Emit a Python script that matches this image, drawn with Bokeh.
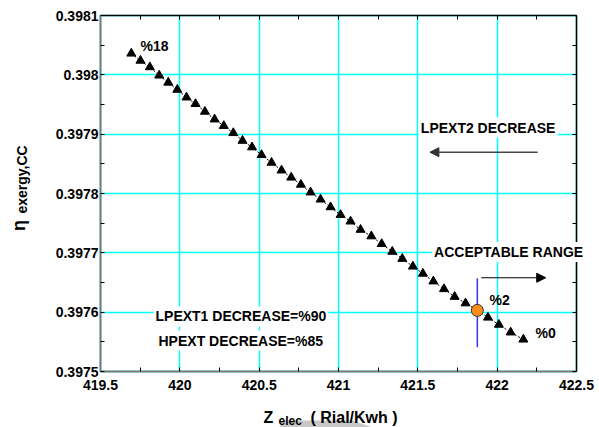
import math
from bokeh.plotting import figure
from bokeh.models import (Range1d, FixedTicker, LinearAxis, Label, Arrow,
                          NormalHead, ColumnDataSource, Grid, PolyAnnotation)
from bokeh.embed import file_html
from bokeh.resources import INLINE

# ---- data ----
z_elec = [419.694, 419.752, 419.811, 419.870, 419.927, 419.984, 420.042, 420.099,
          420.158, 420.219, 420.277, 420.337, 420.395, 420.455, 420.515, 420.578,
          420.641, 420.702, 420.763, 420.824, 420.887, 420.950, 421.013, 421.076,
          421.139, 421.207, 421.272, 421.339, 421.402, 421.469, 421.532, 421.598,
          421.665, 421.732, 421.801, 421.875, 421.942, 422.011, 422.085, 422.165]
eta = [0.398036, 0.398024, 0.398013, 0.397999, 0.397987, 0.397975, 0.397962, 0.397951,
       0.397938, 0.397925, 0.397914, 0.397902, 0.397889, 0.397878, 0.397865, 0.397852,
       0.397839, 0.397827, 0.397815, 0.397802, 0.397790, 0.397777, 0.397764, 0.397753,
       0.397739, 0.397728, 0.397715, 0.397702, 0.397690, 0.397677, 0.397665, 0.397652,
       0.397639, 0.397626, 0.397615, 0.397603, 0.397591, 0.397579, 0.397566, 0.397554]

selected_z = [421.875]
selected_eta = [0.397603]

limit_z = [421.875]
limit_eta_low = [0.397541]
limit_eta_high = [0.397657]

x_ticks = [419.5, 420.0, 420.5, 421.0, 421.5, 422.0, 422.5]
x_tick_labels = ["419.5", "420", "420.5", "421", "421.5", "422", "422.5"]
x_minor = [419.75, 420.25, 420.75, 421.25, 421.75, 422.25]
y_ticks = [0.3975, 0.3976, 0.3977, 0.3978, 0.3979, 0.398, 0.3981]
y_tick_labels = ["0.3975", "0.3976", "0.3977", "0.3978", "0.3979", "0.398", "0.3981"]
y_minor = [0.39755, 0.39765, 0.39775, 0.39785, 0.39795, 0.39805]

X_LO, X_HI = x_ticks[0], x_ticks[-1]
Y_LO, Y_HI = y_ticks[0], y_ticks[-1]

# ---- layout: the frame spans the whole canvas; the axes box sits inside it ----
W, H = 599, 427
BOX_L, BOX_R, BOX_T, BOX_B = 100, 576, 15, 371
sx = (BOX_R - BOX_L) / (X_HI - X_LO)
sy = (BOX_B - BOX_T) / (Y_HI - Y_LO)
x0 = X_LO - BOX_L / sx
x1 = x0 + W / sx
y1 = Y_HI + BOX_T / sy
y0 = y1 - H / sy

FONT = "Liberation Sans"

p = figure(width=W, height=H, output_backend="svg", toolbar_location=None,
           x_range=Range1d(x0, x1), y_range=Range1d(y0, y1),
           min_border=0, background_fill_color="white",
           border_fill_color="white")
p.outline_line_color = None

xt = FixedTicker(ticks=x_ticks, minor_ticks=x_minor)
yt = FixedTicker(ticks=y_ticks, minor_ticks=y_minor)

def style_axis(ax, labels=True):
    ax.major_tick_in = 4
    ax.major_tick_out = 0
    ax.minor_tick_in = 4
    ax.minor_tick_out = 0
    ax.major_label_text_font = FONT
    ax.major_label_text_font_style = "bold"
    ax.major_label_text_font_size = "14px"
    ax.major_label_text_color = "black" if labels else None
    ax.major_tick_line_color = "black"
    ax.minor_tick_line_color = "black"

bx = p.xaxis[0]
ly = p.yaxis[0]
bx.ticker = xt
ly.ticker = yt
bx.fixed_location = Y_LO
ly.fixed_location = X_LO
bx.bounds = (X_LO, X_HI)
ly.bounds = (Y_LO, Y_HI)
bx.major_label_overrides = dict(zip(x_ticks, x_tick_labels))
ly.major_label_overrides = dict(zip(y_ticks, y_tick_labels))
style_axis(bx)
style_axis(ly)
for ax in (bx, ly):
    ax.axis_line_color = "#7a7a7a"
    ax.axis_line_width = 2
bx.major_label_standoff = 8
ly.major_label_standoff = 2

ry = LinearAxis(ticker=yt, fixed_location=X_HI, bounds=(Y_LO, Y_HI))
tx = LinearAxis(ticker=xt, fixed_location=Y_HI, bounds=(X_LO, X_HI))
for ax, loc in ((ry, "right"), (tx, "above")):
    style_axis(ax, labels=False)
    ax.axis_line_color = "black"
    ax.axis_line_width = 1.5
    p.add_layout(ax, loc)

GRID_COLOR = "#00FFFF"
if "cross_bounds" in Grid.properties():
    p.xgrid.ticker = xt
    p.ygrid.ticker = yt
    p.xgrid.bounds = (X_LO, X_HI)
    p.ygrid.bounds = (Y_LO, Y_HI)
    p.xgrid.cross_bounds = (Y_LO, Y_HI)
    p.ygrid.cross_bounds = (X_LO, X_HI)
    p.grid.grid_line_color = GRID_COLOR
    p.grid.grid_line_width = 1.5
else:
    p.grid.visible = False
    p.segment(x0=x_ticks, y0=[Y_LO] * len(x_ticks), x1=x_ticks, y1=[Y_HI] * len(x_ticks),
              line_color=GRID_COLOR, line_width=1.5, level="underlay")
    p.segment(x0=[X_LO] * len(y_ticks), y0=y_ticks, x1=[X_HI] * len(y_ticks), y1=y_ticks,
              line_color=GRID_COLOR, line_width=1.5, level="underlay")

src = ColumnDataSource(dict(z=z_elec, eta=eta))
p.line("z", "eta", source=src, line_color="black", line_width=1, line_dash="2 2")
p.scatter("z", "eta", source=src, marker="triangle", size=9,
          fill_color="black", line_color="black")

p.segment(x0=limit_z, y0=limit_eta_low, x1=limit_z, y1=limit_eta_high,
          line_color="#3030ff", line_width=1.5)
p.scatter(selected_z, selected_eta, marker="circle", size=12,
          fill_color="#FF8C1A", line_color="#333333", line_width=1)

def lab(x, y, text, size="14px", align="center", bg=True):
    l = Label(x=x, y=y, text=text, text_font=FONT, text_font_style="bold",
              text_font_size=size, text_align=align, text_baseline="middle",
              text_color="black")
    if bg:
        l.background_fill_color = "white"
        l.padding = 2
    p.add_layout(l)

lab(419.84, 0.398048, "%18", bg=False)
lab(422.016, 0.3976197, "%2", bg=False)
lab(422.306, 0.3975657, "%0", bg=False)
lab(421.943, 0.3979112, "LPEXT2 DECREASE")
lab(422.072, 0.3977016, "ACCEPTABLE RANGE")
lab(419.834, 0.3975927, "LPEXT1 DECREASE=%90", align="left")
lab(419.853, 0.3975522, "HPEXT DECREASE=%85", align="left")

p.add_layout(Arrow(end=NormalHead(size=9, fill_color="#333333", line_color="#333333"),
                   x_start=422.255, y_start=0.3978696, x_end=421.576, y_end=0.3978696,
                   line_color="#444444", line_width=1.5))
p.add_layout(Arrow(end=NormalHead(size=9, fill_color="black", line_color="black"),
                   x_start=421.9, y_start=0.397658, x_end=422.306, y_end=0.397658,
                   line_color="black", line_width=1.2))

# light grey smudge behind the x title, as in the reference
p.add_layout(PolyAnnotation(xs=[279, 282, 352, 372], ys=[0, 7, 7, 0],
                            xs_units="screen", ys_units="screen",
                            fill_color="#c8c8c8", fill_alpha=1.0, line_color=None))

# axis titles, in canvas pixels (origin bottom-left)
def slab(x, y, text, size, align="center", baseline="middle", angle=0):
    p.add_layout(Label(x=x, y=y, x_units="screen", y_units="screen", text=text,
                       text_font=FONT, text_font_style="bold", text_font_size=size,
                       text_align=align, text_baseline=baseline, angle=angle,
                       text_color="black"))

slab(18, H - 225, "η", "18px", angle=math.pi / 2)
slab(21, H - 179, "exergy,CC", "14px", angle=math.pi / 2)
slab(263, H - 416.5, "Z", "16px", align="left")
slab(278, H - 420.5, "elec", "12px", align="left")
slab(310, H - 416.5, "( Rial/Kwh )", "16px", align="left")

open("out.html", "w").write(file_html(p, INLINE))
